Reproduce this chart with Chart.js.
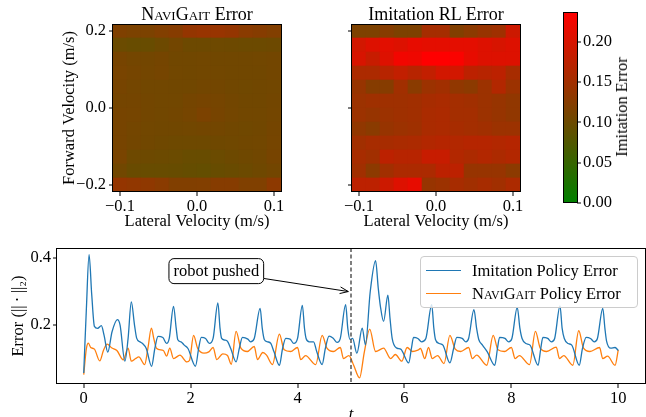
<!DOCTYPE html>
<html>
<head>
<meta charset="utf-8">
<script src="https://cdn.jsdelivr.net/npm/chart.js@4"></script>
<style>
body { margin: 0; background: #fff; }
#wrap { position: relative; width: 646px; height: 417px; overflow: hidden; font-family: "Liberation Serif", "Times New Roman", serif; color: #000; }
canvas { position: absolute; }
.title { position: absolute; top: 5px; font-size: 18px; line-height: 18px; white-space: nowrap; transform: translateX(-50%); }
.sc { font-variant: small-caps; }
#cbLabel { position: absolute; left: 622px; top: 107px; font-size: 16.5px; white-space: nowrap; transform: translate(-50%, -50%) rotate(-90deg); }
#legend { position: absolute; left: 420px; top: 256px; width: 216px; height: 48px; padding-top: 2px; border: 1px solid #ccc; border-radius: 4px; background: rgba(255,255,255,0.8); font-size: 16.5px; }
#legend .row { height: 23px; display: flex; align-items: center; white-space: nowrap; }
#legend .swatch { width: 35px; border-top: 1.4px solid; margin: 0 11px 0 5px; }
</style>
</head>
<body>
<div id="wrap">
	<canvas id="heatNavi" width="290" height="232" style="left:0;top:0"></canvas>
	<canvas id="heatImit" width="230" height="232" style="left:300px;top:0"></canvas>
	<canvas id="colorbar" width="106" height="215" style="left:540px;top:0"></canvas>
	<canvas id="errChart" width="646" height="190" style="left:0;top:235px"></canvas>
	<div class="title" id="titleNavi" style="left:197px"></div>
	<div class="title" id="titleImit" style="left:436px"></div>
	<div id="cbLabel"></div>
	<div id="legend"></div>
</div>
<script>
// heatmap grid: lateral velocity (columns), forward velocity (rows, top to bottom)
var latVel = [-0.1, -0.0818, -0.0636, -0.0455, -0.0273, -0.0091, 0.0091, 0.0273, 0.0455, 0.0636, 0.0818, 0.1];
var fwdVel = [0.2, 0.1636, 0.1273, 0.0909, 0.0545, 0.0182, -0.0182, -0.0545, -0.0909, -0.1273, -0.1636, -0.2];
var latTicks = [-0.1, 0.0, 0.1];
var fwdTicks = [-0.2, 0.0, 0.2];
var heatTitles = ['NaviGait Error', 'Imitation RL Error'];

var naviGrid = [
	[0.118, 0.115, 0.115, 0.121, 0.125, 0.138, 0.141, 0.141, 0.138, 0.128, 0.125, 0.121],
	[0.099, 0.097, 0.097, 0.101, 0.107, 0.101, 0.101, 0.102, 0.101, 0.100, 0.100, 0.101],
	[0.111, 0.108, 0.107, 0.109, 0.105, 0.105, 0.106, 0.105, 0.105, 0.105, 0.106, 0.107],
	[0.112, 0.110, 0.108, 0.110, 0.106, 0.105, 0.106, 0.106, 0.105, 0.105, 0.105, 0.107],
	[0.111, 0.108, 0.106, 0.106, 0.105, 0.105, 0.107, 0.107, 0.105, 0.104, 0.105, 0.106],
	[0.109, 0.109, 0.107, 0.106, 0.106, 0.109, 0.111, 0.110, 0.107, 0.105, 0.105, 0.107],
	[0.111, 0.110, 0.107, 0.106, 0.107, 0.110, 0.115, 0.111, 0.108, 0.106, 0.106, 0.108],
	[0.111, 0.108, 0.106, 0.105, 0.105, 0.106, 0.107, 0.107, 0.105, 0.104, 0.105, 0.109],
	[0.111, 0.107, 0.105, 0.103, 0.102, 0.102, 0.102, 0.103, 0.104, 0.105, 0.106, 0.110],
	[0.112, 0.102, 0.101, 0.100, 0.099, 0.097, 0.097, 0.099, 0.101, 0.103, 0.105, 0.111],
	[0.105, 0.098, 0.097, 0.097, 0.096, 0.094, 0.093, 0.096, 0.098, 0.100, 0.103, 0.107],
	[0.138, 0.135, 0.133, 0.128, 0.120, 0.120, 0.121, 0.125, 0.125, 0.119, 0.119, 0.131]
];

var imitGrid = [
	[0.116, 0.116, 0.125, 0.116, 0.116, 0.153, 0.153, 0.120, 0.130, 0.140, 0.148, 0.190],
	[0.195, 0.205, 0.210, 0.205, 0.215, 0.212, 0.212, 0.212, 0.212, 0.205, 0.200, 0.205],
	[0.200, 0.185, 0.205, 0.225, 0.222, 0.237, 0.237, 0.232, 0.215, 0.205, 0.205, 0.205],
	[0.160, 0.160, 0.170, 0.180, 0.170, 0.180, 0.195, 0.195, 0.175, 0.170, 0.175, 0.155],
	[0.140, 0.125, 0.125, 0.150, 0.128, 0.145, 0.150, 0.135, 0.130, 0.145, 0.165, 0.145],
	[0.145, 0.148, 0.148, 0.148, 0.150, 0.155, 0.158, 0.152, 0.150, 0.145, 0.140, 0.135],
	[0.145, 0.140, 0.145, 0.148, 0.150, 0.158, 0.160, 0.152, 0.152, 0.145, 0.140, 0.135],
	[0.135, 0.128, 0.140, 0.145, 0.148, 0.158, 0.160, 0.155, 0.152, 0.150, 0.145, 0.145],
	[0.150, 0.155, 0.155, 0.158, 0.160, 0.165, 0.168, 0.165, 0.168, 0.168, 0.165, 0.168],
	[0.155, 0.150, 0.175, 0.170, 0.170, 0.185, 0.185, 0.165, 0.160, 0.165, 0.160, 0.165],
	[0.150, 0.130, 0.150, 0.160, 0.160, 0.160, 0.175, 0.175, 0.140, 0.140, 0.140, 0.130],
	[0.175, 0.175, 0.190, 0.205, 0.215, 0.140, 0.145, 0.155, 0.150, 0.155, 0.150, 0.160]
];

// colour bar
var cbMax = 0.237;
var cbTicks = [0.0, 0.05, 0.10, 0.15, 0.20];
var cbTitle = 'Imitation Error';

// error over time
var seriesLabels = ['Imitation Policy Error', 'NaviGait Policy Error'];
var imitT = [
	0.00, 0.05, 0.10, 0.15, 0.20, 0.26, 0.33, 0.38, 0.45, 0.53, 0.63, 0.68, 0.77, 0.83,
	0.89, 0.95, 0.99, 1.05, 1.10, 1.17, 1.27, 1.33, 1.39, 1.48, 1.55, 1.60,
	1.68, 1.73, 1.76, 1.82, 1.88, 1.95, 2.09, 2.15, 2.20, 2.28, 2.35, 2.42,
	2.51, 2.55, 2.58, 2.64, 2.69, 2.75, 2.85, 2.91, 2.97, 3.07, 3.12, 3.19,
	3.30, 3.34, 3.38, 3.44, 3.50, 3.56, 3.66, 3.72, 3.78, 3.86, 3.93, 4.00,
	4.09, 4.13, 4.16, 4.22, 4.30, 4.36, 4.46, 4.52, 4.59, 4.67, 4.74, 4.80,
	4.90, 4.94, 4.98, 5.03, 5.11, 5.21, 5.27, 5.36, 5.46, 5.51, 5.55, 5.61, 5.69, 5.73,
	5.77, 5.86, 5.93, 6.08, 6.13, 6.17, 6.25, 6.32, 6.40,
	6.51, 6.55, 6.58, 6.65, 6.72, 6.85, 6.92, 6.98, 7.08, 7.15, 7.20,
	7.30, 7.35, 7.39, 7.46, 7.55, 7.69, 7.74, 7.78, 7.88, 7.95, 8.01,
	8.11, 8.16, 8.20, 8.27, 8.35, 8.50, 8.55, 8.59, 8.68, 8.75, 8.81,
	8.91, 8.95, 8.99, 9.06, 9.13, 9.27, 9.33, 9.40, 9.48, 9.55, 9.61,
	9.71, 9.75, 9.78, 9.86, 9.94, 10.00
];
var imitErr = [
	0.057, 0.250, 0.410, 0.290, 0.196, 0.190, 0.198, 0.170, 0.119, 0.180, 0.216, 0.200, 0.092, 0.160,
	0.269, 0.200, 0.161, 0.150, 0.145, 0.130, 0.077, 0.130, 0.166, 0.163, 0.145, 0.160,
	0.256, 0.190, 0.156, 0.150, 0.140, 0.130, 0.077, 0.130, 0.163, 0.160, 0.145, 0.160,
	0.266, 0.190, 0.160, 0.155, 0.151, 0.130, 0.090, 0.130, 0.163, 0.158, 0.150, 0.160,
	0.250, 0.190, 0.156, 0.150, 0.145, 0.120, 0.080, 0.130, 0.160, 0.158, 0.145, 0.160,
	0.259, 0.190, 0.160, 0.150, 0.150, 0.120, 0.082, 0.130, 0.167, 0.160, 0.148, 0.160,
	0.261, 0.190, 0.157, 0.160, 0.116, 0.191, 0.141, 0.300, 0.392, 0.310, 0.256, 0.211, 0.289, 0.220,
	0.160, 0.131, 0.128, 0.087, 0.130, 0.163, 0.160, 0.150, 0.160,
	0.261, 0.190, 0.157, 0.145, 0.140, 0.087, 0.130, 0.163, 0.160, 0.150, 0.160,
	0.246, 0.190, 0.157, 0.140, 0.120, 0.080, 0.130, 0.163, 0.160, 0.150, 0.160,
	0.253, 0.190, 0.160, 0.145, 0.140, 0.080, 0.130, 0.163, 0.160, 0.150, 0.160,
	0.257, 0.190, 0.160, 0.145, 0.140, 0.080, 0.130, 0.163, 0.160, 0.150, 0.160,
	0.250, 0.190, 0.153, 0.131, 0.133, 0.124
];
var naviT = [
	0.00, 0.05, 0.087, 0.13, 0.20, 0.30, 0.37, 0.44, 0.52, 0.62, 0.74, 0.83, 0.89, 0.97, 1.03, 1.14, 1.20,
	1.266, 1.31, 1.36, 1.49, 1.55, 1.61, 1.68, 1.80, 1.93, 1.98,
	2.055, 2.13, 2.25, 2.34, 2.42, 2.49, 2.60, 2.69, 2.76,
	2.85, 2.94, 3.06, 3.19, 3.25, 3.35, 3.42, 3.53,
	3.66, 3.75, 3.87, 4.00, 4.06, 4.15, 4.34,
	4.46, 4.55, 4.67, 4.80, 4.86, 4.96, 5.05, 5.16, 5.25,
	5.35, 5.46, 5.61, 5.74, 5.83, 5.95, 6.05, 6.15, 6.25, 6.30, 6.38, 6.45, 6.52, 6.62, 6.74,
	6.85, 6.95, 7.05, 7.20, 7.27, 7.35, 7.54,
	7.66, 7.75, 7.87, 8.00, 8.07, 8.15, 8.34,
	8.45, 8.54, 8.66, 8.84, 8.90, 8.98, 9.15,
	9.26, 9.35, 9.47, 9.65, 9.71, 9.80, 9.94, 10.00
];
var naviErr = [
	0.052, 0.130, 0.146, 0.133, 0.128, 0.093, 0.125, 0.143, 0.132, 0.124, 0.096, 0.131, 0.092, 0.100, 0.105, 0.082, 0.130,
	0.191, 0.160, 0.131, 0.124, 0.107, 0.131, 0.100, 0.110, 0.090, 0.095,
	0.169, 0.131, 0.116, 0.120, 0.133, 0.097, 0.114, 0.109, 0.083,
	0.181, 0.131, 0.121, 0.136, 0.097, 0.118, 0.110, 0.082,
	0.173, 0.126, 0.121, 0.133, 0.097, 0.109, 0.082,
	0.169, 0.131, 0.121, 0.133, 0.100, 0.109, 0.080, 0.042, 0.120,
	0.188, 0.121, 0.131, 0.100, 0.112, 0.092, 0.133, 0.121, 0.125, 0.130, 0.100, 0.133, 0.100, 0.109, 0.085,
	0.169, 0.128, 0.121, 0.133, 0.100, 0.110, 0.080,
	0.169, 0.126, 0.121, 0.133, 0.100, 0.109, 0.082,
	0.181, 0.131, 0.121, 0.134, 0.100, 0.109, 0.080,
	0.183, 0.131, 0.121, 0.133, 0.100, 0.107, 0.080, 0.126
];
var timeTicks = [0, 2, 4, 6, 8, 10];
var errTicks = [0.2, 0.4];

// push annotation
var pushTime = 5.0;
var pushLabel = 'robot pushed';
var pushLabelAt = [2.48, 0.361];
var pushArrowTo = [4.95, 0.300];

Chart.defaults.font.family = '"Liberation Serif", "Times New Roman", serif';
Chart.defaults.font.size = 16.5;
Chart.defaults.color = '#000';

function fmt(v, d) {
	return v.toFixed(d).replace('-', '\u2212');
}

function smallCaps(text) {
	return text.replace('NaviGait', '<span class="sc">NaviGait</span>');
}

function errColor(v) {
	var t = Math.max(0, Math.min(1, v / cbMax));
	return 'rgb(' + Math.round(255 * t) + ',' + Math.round(128 * (1 - t)) + ',0)';
}

var framePlugin = {
	id: 'frame',
	afterDraw: function(chart) {
		var a = chart.chartArea;
		var ctx = chart.ctx;
		ctx.save();
		ctx.strokeStyle = '#000';
		ctx.lineWidth = 1;
		ctx.strokeRect(Math.round(a.left) - 0.5, Math.round(a.top) + 0.5,
				Math.round(a.right - a.left) + 1, Math.round(a.bottom - a.top) - 1);
		ctx.restore();
	}
};

// tick marks only; lineWidth 0 keeps bars from being nudged off tick values
function tickGrid(len) {
	return { drawOnChartArea: false, drawTicks: true, tickLength: len, tickColor: '#000', lineWidth: 0, tickWidth: 1, offset: false };
}

function fixedTicks(list) {
	return function(scale) {
		scale.ticks = list.map(function(v) { return { value: v }; });
	};
}

function heatCells(grid) {
	var cells = [];
	var colors = [];
	var halfH = Math.abs(fwdVel[0] - fwdVel[1]) / 2;
	for (var r = 0; r < fwdVel.length; r++) {
		for (var c = 0; c < latVel.length; c++) {
			cells.push({ x: latVel[c], y: [fwdVel[r] - halfH, fwdVel[r] + halfH] });
			colors.push(errColor(grid[r][c]));
		}
	}
	return { cells: cells, colors: colors };
}

function heatmap(id, grid, showY, padLeft, yWidth, padRight) {
	var h = heatCells(grid);
	var halfW = Math.abs(latVel[1] - latVel[0]) / 2;
	var halfH = Math.abs(fwdVel[0] - fwdVel[1]) / 2;
	return new Chart(document.getElementById(id), {
		type: 'bar',
		data: {
			datasets: [{
				data: h.cells,
				backgroundColor: h.colors,
				borderWidth: 0,
				barPercentage: 1,
				categoryPercentage: 1
			}]
		},
		options: {
			responsive: false,
			animation: false,
			layout: { padding: { left: padLeft, top: 24, right: padRight, bottom: 0 } },
			plugins: { legend: { display: false }, tooltip: { enabled: false } },
			scales: {
				x: {
					type: 'linear',
					offset: false,
					min: latVel[0] - halfW,
					max: latVel[latVel.length - 1] + halfW,
					grid: tickGrid(4),
					border: { display: false },
					afterBuildTicks: fixedTicks(latTicks),
					ticks: { padding: 1, maxRotation: 0, callback: function(v) { return fmt(v, 1); } },
					title: { display: true, text: 'Lateral Velocity (m/s)', padding: 0 },
					afterFit: function(s) { s.height = 40; }
				},
				y: {
					type: 'linear',
					min: fwdVel[fwdVel.length - 1] - halfH,
					max: fwdVel[0] + halfH,
					grid: tickGrid(4),
					border: { display: false },
					afterBuildTicks: fixedTicks(fwdTicks),
					ticks: { display: showY, padding: 3, callback: function(v) { return fmt(v, 1); } },
					title: { display: showY, text: 'Forward Velocity (m/s)', padding: 0 },
					afterFit: function(s) { s.width = yWidth; }
				}
			}
		},
		plugins: [framePlugin]
	});
}

heatmap('heatNavi', naviGrid, true, 60, 53, 9);
heatmap('heatImit', imitGrid, false, 0, 52, 10);
document.getElementById('titleNavi').innerHTML = smallCaps(heatTitles[0]);
document.getElementById('titleImit').innerHTML = smallCaps(heatTitles[1]);

new Chart(document.getElementById('colorbar'), {
	type: 'bar',
	data: {
		labels: [''],
		datasets: [{
			data: [[0, cbMax]],
			borderWidth: 0,
			barPercentage: 1,
			categoryPercentage: 1,
			backgroundColor: function(ctx) {
				var y = ctx.chart.scales.y;
				var y0 = y ? y.getPixelForValue(0) : NaN;
				var y1 = y ? y.getPixelForValue(cbMax) : NaN;
				if (!isFinite(y0) || !isFinite(y1) || y0 === y1) return errColor(cbMax / 2);
				var g = ctx.chart.ctx.createLinearGradient(0, y0, 0, y1);
				g.addColorStop(0, errColor(0));
				g.addColorStop(1, errColor(cbMax));
				return g;
			}
		}]
	},
	options: {
		responsive: false,
		animation: false,
		layout: { padding: { left: 24, top: 10, right: 0, bottom: 12 } },
		plugins: { legend: { display: false }, tooltip: { enabled: false } },
		scales: {
			x: { display: false },
			y: {
				position: 'right',
				min: 0,
				max: cbMax,
				grid: tickGrid(4),
				border: { display: false },
				afterBuildTicks: fixedTicks(cbTicks),
				ticks: { padding: 2, callback: function(v) { return fmt(v, 2); } },
				afterFit: function(s) { s.width = 69; }
			}
		}
	},
	plugins: [framePlugin]
});
document.getElementById('cbLabel').textContent = cbTitle;

var pushPlugin = {
	id: 'push',
	afterDatasetsDraw: function(chart) {
		var x = chart.scales.x;
		var y = chart.scales.y;
		var a = chart.chartArea;
		var ctx = chart.ctx;
		var px = x.getPixelForValue(pushTime);
		ctx.save();
		ctx.strokeStyle = '#555';
		ctx.lineWidth = 1.5;
		ctx.setLineDash([4, 2.5]);
		ctx.beginPath();
		ctx.moveTo(px, a.top);
		ctx.lineTo(px, a.bottom);
		ctx.stroke();
		ctx.setLineDash([]);

		ctx.font = Chart.helpers.toFont(Chart.defaults.font).string;
		var w = ctx.measureText(pushLabel).width + 9;
		var h = 25;
		var cx = x.getPixelForValue(pushLabelAt[0]);
		var cy = y.getPixelForValue(pushLabelAt[1]);
		var tx = x.getPixelForValue(pushArrowTo[0]);
		var ty = y.getPixelForValue(pushArrowTo[1]);
		var dx = tx - cx, dy = ty - cy;
		var s = Math.min((w / 2) / Math.abs(dx), (h / 2) / Math.abs(dy));
		var sx = cx + dx * s, sy = cy + dy * s;
		ctx.strokeStyle = '#000';
		ctx.lineWidth = 1;
		ctx.beginPath();
		ctx.moveTo(sx, sy);
		ctx.lineTo(tx, ty);
		var ang = Math.atan2(ty - sy, tx - sx);
		ctx.moveTo(tx - 9 * Math.cos(ang - 0.38), ty - 9 * Math.sin(ang - 0.38));
		ctx.lineTo(tx, ty);
		ctx.lineTo(tx - 9 * Math.cos(ang + 0.38), ty - 9 * Math.sin(ang + 0.38));
		ctx.stroke();

		ctx.fillStyle = '#fff';
		ctx.beginPath();
		ctx.roundRect(cx - w / 2, cy - h / 2, w, h, 5);
		ctx.fill();
		ctx.stroke();
		ctx.fillStyle = '#000';
		ctx.textAlign = 'center';
		ctx.textBaseline = 'middle';
		ctx.fillText(pushLabel, cx, cy + 1);
		ctx.restore();
	}
};

function points(ts, vs) {
	return ts.map(function(t, i) { return { x: t, y: vs[i] }; });
}

var errChart = new Chart(document.getElementById('errChart'), {
	type: 'line',
	data: {
		datasets: [{
			label: seriesLabels[0],
			data: points(imitT, imitErr),
			borderColor: '#1f77b4',
			borderWidth: 1.3,
			pointRadius: 0,
			cubicInterpolationMode: 'monotone'
		}, {
			label: seriesLabels[1],
			data: points(naviT, naviErr),
			borderColor: '#ff7f0e',
			borderWidth: 1.3,
			pointRadius: 0,
			cubicInterpolationMode: 'monotone'
		}]
	},
	options: {
		responsive: false,
		animation: false,
		layout: { padding: { left: 9, top: 13, right: 1, bottom: 0 } },
		plugins: { legend: { display: false }, tooltip: { enabled: false } },
		scales: {
			x: {
				type: 'linear',
				min: -0.5,
				max: 10.5,
				grid: tickGrid(4),
				border: { display: false },
				afterBuildTicks: fixedTicks(timeTicks),
				ticks: { padding: 1, maxRotation: 0, callback: function(v) { return String(v); } },
				title: { display: true, text: 't', font: { style: 'italic' }, padding: 0 },
				afterFit: function(s) { s.height = 41; }
			},
			y: {
				min: 0.024,
				max: 0.43,
				grid: tickGrid(4),
				border: { display: false },
				afterBuildTicks: fixedTicks(errTicks),
				ticks: { padding: 2, callback: function(v) { return fmt(v, 1); } },
				title: { display: true, text: 'Error (||\u2009\u00b7\u2009||\u2082)', padding: 0 },
				afterFit: function(s) { s.width = 48; }
			}
		}
	},
	plugins: [pushPlugin, framePlugin]
});

function buildLegend(chart) {
	var box = document.getElementById('legend');
	chart.data.datasets.forEach(function(ds) {
		var row = document.createElement('div');
		row.className = 'row';
		var swatch = document.createElement('span');
		swatch.className = 'swatch';
		swatch.style.borderTopColor = ds.borderColor;
		var label = document.createElement('span');
		label.innerHTML = smallCaps(ds.label);
		row.appendChild(swatch);
		row.appendChild(label);
		box.appendChild(row);
	});
}
buildLegend(errChart);
</script>
</body>
</html>
